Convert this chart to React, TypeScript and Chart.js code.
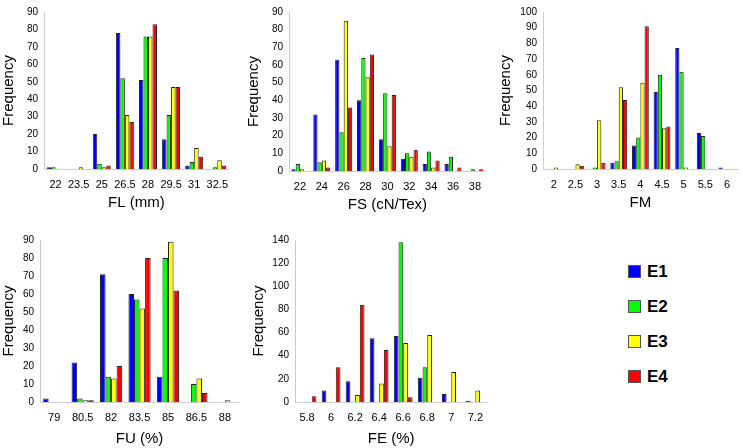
import { useEffect, useRef } from "react"
import { Chart, registerables } from "chart.js"

Chart.register(...registerables)

const seriesNames = ["E1", "E2", "E3", "E4"]
const seriesColors = ["#0000ff", "#00ff00", "#ffff00", "#ff0000"]

// FL (mm)
const flLabels = ["22", "23.5", "25", "26.5", "28", "29.5", "31", "32.5"]
const flE1 = [1, 0, 20, 78, 51, 17, 2, 0]
const flE2 = [1, 0, 3, 52, 76, 31, 4, 1]
const flE3 = [0, 1, 1, 31, 76, 47, 12, 5]
const flE4 = [0, 0, 2, 27, 83, 47, 7, 2]

// FS (cN/Tex)
const fsLabels = ["22", "24", "26", "28", "30", "32", "34", "36", "38"]
const fsE1 = [1, 32, 63, 40, 18, 7, 4, 4, 0]
const fsE2 = [4, 5, 22, 64, 44, 10, 11, 8, 1]
const fsE3 = [1, 6, 85, 53, 14, 8, 2, 0, 0]
const fsE4 = [0, 2, 36, 66, 43, 12, 6, 2, 1]

// FM
const fmLabels = ["2", "2.5", "3", "3.5", "4", "4.5", "5", "5.5", "6"]
const fmE1 = [0, 0, 0, 4, 15, 49, 77, 23, 1]
const fmE2 = [0, 0, 1, 5, 20, 60, 62, 21, 0]
const fmE3 = [1, 3, 31, 52, 55, 26, 1, 0, 0]
const fmE4 = [0, 2, 4, 44, 91, 27, 0, 0, 0]

// FU (%)
const fuLabels = ["79", "80.5", "82", "83.5", "85", "86.5", "88"]
const fuE1 = [2, 22, 71, 60, 14, 0, 0]
const fuE2 = [0, 2, 14, 57, 80, 10, 0]
const fuE3 = [0, 1, 13, 52, 89, 13, 1]
const fuE4 = [0, 1, 20, 80, 62, 5, 0]

// FE (%)
const feLabels = ["5.8", "6", "6.2", "6.4", "6.6", "6.8", "7", "7.2"]
const feE1 = [0, 10, 18, 55, 57, 21, 7, 1]
const feE2 = [0, 0, 0, 0, 138, 30, 0, 0]
const feE3 = [0, 0, 6, 16, 51, 58, 26, 10]
const feE4 = [5, 30, 84, 45, 4, 0, 0, 0]

const FONT = "'Liberation Sans', Arial, sans-serif"

interface PanelProps {
  labels: string[]
  series: number[][]
  title: string
  yMax: number
  yStep: number
  left: number
  top: number
  width: number
  height: number
  yWidth: number
  xHeight: number
  padTop: number
}

function Panel({ labels, series, title, yMax, yStep, left, top, width, height, yWidth, xHeight, padTop }: PanelProps) {
  const chartRef = useRef<HTMLCanvasElement>(null)
  const chartInstance = useRef<Chart | null>(null)

  useEffect(() => {
    if (!chartRef.current) return
    if (chartInstance.current) chartInstance.current.destroy()
    const ctx = chartRef.current.getContext("2d")
    if (!ctx) return

    chartInstance.current = new Chart(ctx, {
      type: "bar",
      data: {
        labels,
        datasets: series.map((values, i) => ({
          label: seriesNames[i],
          data: values,
          backgroundColor: seriesColors[i],
          borderColor: "#222",
          borderWidth: 1,
          categoryPercentage: 0.78,
          barPercentage: 1,
        })),
      },
      options: {
        responsive: true,
        maintainAspectRatio: false,
        animation: false,
        layout: { padding: { top: padTop, right: 0, left: 0, bottom: 0 } },
        plugins: { legend: { display: false }, tooltip: { enabled: false } },
        scales: {
          x: {
            grid: { display: false, drawTicks: false },
            border: { color: "#cccccc" },
            ticks: { color: "#000", font: { family: FONT, size: 11 }, padding: 9, maxRotation: 0, autoSkip: false },
            title: { display: true, text: title, color: "#000", font: { family: FONT, size: 15 }, padding: { top: 0, bottom: 2 } },
            afterFit: (scale: any) => {
              scale.height = xHeight
            },
          },
          y: {
            min: 0,
            max: yMax,
            grid: { display: false, drawTicks: false },
            border: { color: "#cccccc" },
            ticks: { stepSize: yStep, color: "#000", font: { family: FONT, size: 10 }, padding: 6 },
            title: { display: true, text: "Frequency", color: "#000", font: { family: FONT, size: 15 }, padding: { top: 0, bottom: 0 } },
            afterFit: (scale: any) => {
              scale.width = yWidth
            },
          },
        },
      },
    })

    return () => {
      if (chartInstance.current) {
        chartInstance.current.destroy()
        chartInstance.current = null
      }
    }
  }, [])

  return (
    <div style={{ position: "absolute", left, top, width, height }}>
      <canvas ref={chartRef}></canvas>
    </div>
  )
}

export default function App() {
  return (
    <div style={{ position: "fixed", left: 0, top: 0, width: 743, height: 448, background: "#fff", overflow: "hidden" }}>
      <Panel labels={flLabels} series={[flE1, flE2, flE3, flE4]} title="FL (mm)" yMax={90} yStep={10}
        left={0} top={0} width={237} height={214} yWidth={44} xHeight={45} padTop={2} />
      <Panel labels={fsLabels} series={[fsE1, fsE2, fsE3, fsE4]} title="FS (cN/Tex)" yMax={90} yStep={10}
        left={245} top={0} width={245} height={216} yWidth={44} xHeight={45} padTop={1} />
      <Panel labels={fmLabels} series={[fmE1, fmE2, fmE3, fmE4]} title="FM" yMax={100} yStep={10}
        left={497} top={0} width={242} height={214} yWidth={46} xHeight={45} padTop={2} />
      <Panel labels={fuLabels} series={[fuE1, fuE2, fuE3, fuE4]} title="FU (%)" yMax={90} yStep={10}
        left={0} top={228} width={240} height={222} yWidth={40} xHeight={48} padTop={5} />
      <Panel labels={feLabels} series={[feE1, feE2, feE3, feE4]} title="FE (%)" yMax={140} yStep={20}
        left={250} top={228} width={242} height={222} yWidth={45} xHeight={48} padTop={4} />
      <div style={{ position: "absolute", left: 628, top: 254, fontFamily: FONT }}>
        {seriesNames.map((name, i) => (
          <div key={name} style={{ display: "flex", alignItems: "center", height: 35 }}>
            <span style={{ display: "inline-block", width: 11, height: 11, background: seriesColors[i], border: "1px solid #555", marginRight: 6 }} />
            <span style={{ fontWeight: "bold", fontSize: 17, color: "#000" }}>{name}</span>
          </div>
        ))}
      </div>
    </div>
  )
}
